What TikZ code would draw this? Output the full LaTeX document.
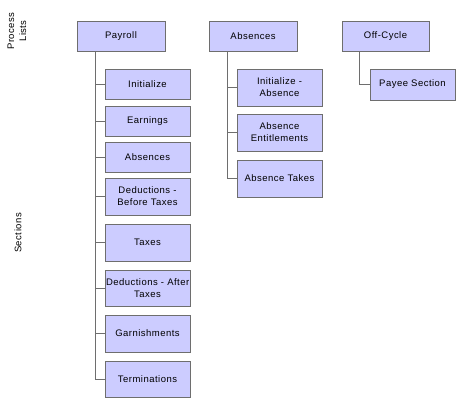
\documentclass[tikz,border=0pt]{standalone}
\usepackage{fontspec}
\setmainfont[LetterSpace=5]{Liberation Sans}
\definecolor{boxfill}{HTML}{CCCCFF}
\definecolor{boxline}{HTML}{6E6E6E}
\tikzset{
  listbox/.style={draw=boxline, fill=boxfill, line width=1pt, inner sep=1pt,
    minimum width=#1, text width=#1-2pt, minimum height=30pt, align=center,
    font=\fontsize{9.5}{12}\selectfont},
  sectbox/.style={listbox=85pt, minimum height=#1},
  sectbox/.default=30pt,
  branch/.style={draw=boxline, line width=1pt},
  sidelabel/.style={rotate=90, align=center, font=\fontsize{9.5}{12}\selectfont}
}
\begin{document}
\begin{tikzpicture}[x=1pt, y=-1pt]
\useasboundingbox (0,0) rectangle (456,400);
% Side labels
\node[sidelabel] (lbllists) at (17,31) {Process\\Lists};
\node[sidelabel] (lblsect) at (18,233) {Sections};
% Process lists
\node[listbox=88pt] (payroll) at (121,36) {Payroll};
\node[listbox=88pt] (absences) at (253,36) {Absences};
\node[listbox=87pt] (offcycle) at (385.5,36) {Off-Cycle};
% Payroll sections
\node[sectbox] (init) at (147.5,84) {Initialize};
\node[sectbox] (earn) at (147.5,121) {Earnings};
\node[sectbox] (absp) at (147.5,157) {Absences};
\node[sectbox=37pt] (dedbefore) at (147.5,196.5) {Deductions -\\Before Taxes};
\node[sectbox=37pt] (taxes) at (147.5,242.5) {Taxes};
\node[sectbox=36pt] (dedafter) at (147.5,288) {Deductions - After\\Taxes};
\node[sectbox=37pt] (garn) at (147.5,333.5) {Garnishments};
\node[sectbox=36pt] (term) at (147.5,379) {Terminations};
% Absences sections
\node[sectbox=37pt] (initabs) at (279.5,87.5) {Initialize -\\Absence};
\node[sectbox=37pt] (entitle) at (279.5,132.5) {Absence\\Entitlements};
\node[sectbox=37pt] (takes) at (279.5,178.5) {Absence Takes};
% Off-cycle section
\node[sectbox=31pt] (payee) at (412.5,84.5) {Payee Section};
% Tree lines
\foreach \child in {init,earn,absp,dedbefore,taxes,dedafter,garn,term}
  \draw[branch] ([xshift=19pt]payroll.south west) |- (\child.west);
\foreach \child in {initabs,entitle,takes}
  \draw[branch] ([xshift=19pt]absences.south west) |- (\child.west);
\draw[branch] ([xshift=18pt]offcycle.south west) |- (payee.west);
\end{tikzpicture}
\end{document}
